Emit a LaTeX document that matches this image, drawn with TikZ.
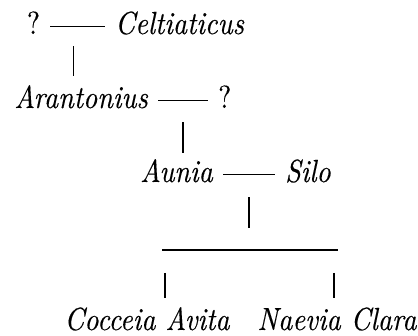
\documentclass[tikz,border=0pt]{standalone}
\usepackage{fontspec}
\setmainfont{lmroman10}[Extension=.otf, UprightFont=*-regular,
    ItalicFont=*-italic, FakeStretch=0.87, FakeBold=0.25]
\usetikzlibrary{calc}

\tikzset{
    person/.style={font=\fontsize{32}{38}\selectfont\itshape, inner sep=0pt},
    unknown/.style={font=\fontsize{32}{38}\selectfont, inner sep=0pt},
    couple/.style={line width=1.4pt, shorten <=10pt, shorten >=10pt},
    kin/.style={line width=1.4pt}
}

\begin{document}
\begin{tikzpicture}[x=1pt,y=1pt]
    \useasboundingbox (0,0) rectangle (418,-336);

    % first generation
    \node [unknown, anchor=base] (q1) at (33.5,-34) {?};
    \node [person, anchor=base west] (celt) at (115,-34) {Celtiaticus};
    \draw [couple] ([yshift=7.5pt]q1.base east) -- coordinate (m1)
        ([yshift=7.5pt]celt.base west);

    % second generation
    \node [person, anchor=base east] (aran) at (148,-108) {Arantonius};
    \node [unknown, anchor=base west] (q2) at (218,-108) {?};
    \draw [kin, shorten <=20pt, shorten >=9pt] ([xshift=-4pt]m1) --
        ([xshift=-4pt]m1 |- aran.north);
    \draw [couple] ([yshift=7.5pt]aran.base east) -- coordinate (m2)
        ([yshift=7.5pt]q2.base west);

    % third generation
    \node [person, anchor=base east] (aunia) at (213,-182) {Aunia};
    \node [person, anchor=base west] (silo) at (285,-182) {Silo};
    \draw [kin, shorten <=22pt, shorten >=6pt] (m2) -- (m2 |- aunia.north);
    \draw [couple] ([yshift=7.5pt]aunia.base east) -- coordinate (m3)
        ([yshift=7.5pt]silo.base west);

    % children
    \coordinate (barL) at (162,-250);
    \coordinate (barR) at (338,-250);
    \coordinate (dropL) at (165,-250);
    \coordinate (dropR) at (334,-250);
    \draw [kin, shorten <=23pt, shorten >=22pt] (m3) -- (m3 |- barL);
    \draw [kin] (barL) -- (barR);

    \node [person, anchor=base] (cocc) at (147,-330) {Cocceia Avita};
    \node [person, anchor=base] (naev) at (337,-330) {Naevia Clara};
    \draw [kin, shorten <=23pt, shorten >=9pt] (dropL) -- (dropL |- cocc.north);
    \draw [kin, shorten <=23pt, shorten >=9pt] (dropR) -- (dropR |- naev.north);
\end{tikzpicture}
\end{document}
